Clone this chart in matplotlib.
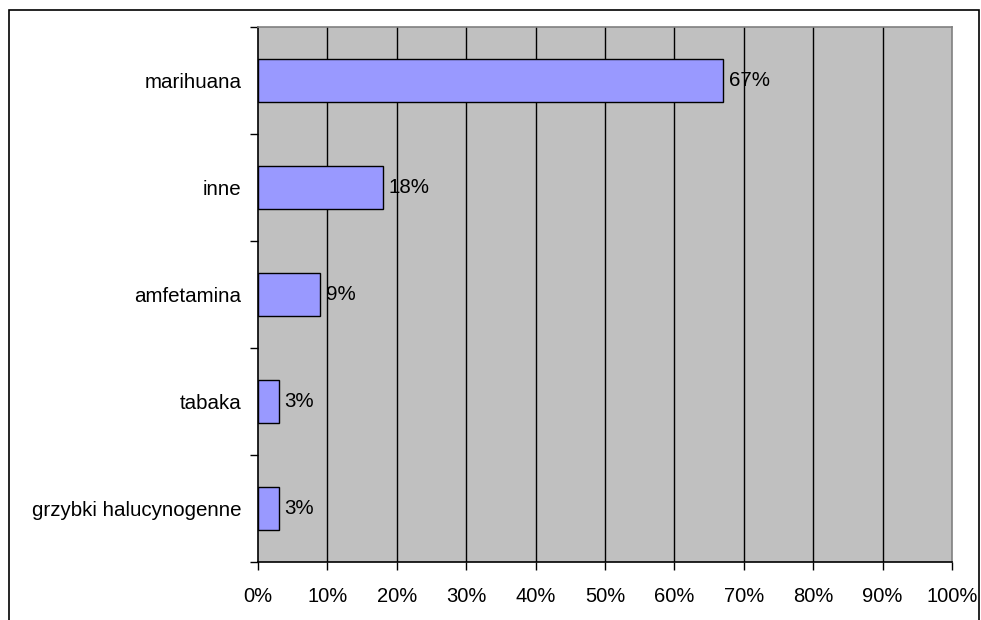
import matplotlib
matplotlib.use("Agg")
import matplotlib.pyplot as plt
from matplotlib.patches import Rectangle
from matplotlib.ticker import FixedLocator, FuncFormatter

categories = ["marihuana", "inne", "amfetamina", "tabaka", "grzybki halucynogenne"]
values = [67, 18, 9, 3, 3]
labels = ["67%", "18%", "9%", "3%", "3%"]
xticks = [0, 10, 20, 30, 40, 50, 60, 70, 80, 90, 100]

plt.rcParams['font.family'] = ['Liberation Sans', 'DejaVu Sans']
W, H = 981, 620
fig = plt.figure(figsize=(W/100, H/100), dpi=100)
fig.patch.set_facecolor('white')

# outer border (bottom edge cut off)
fig.add_artist(Rectangle((8.5/W, -0.05), (979-8.5)/W, 1.05 - 10.5/H, transform=fig.transFigure,
                         fill=False, edgecolor='black', linewidth=1.2))

left, right, top, bottom = 258, 952, 27, 562
ax = fig.add_axes([left/W, 1-bottom/H, (right-left)/W, (bottom-top)/H])
ax.set_facecolor('#C0C0C0')

n = len(categories)
ypos = [n-1-i for i in range(n)]
ax.set_xlim(0, 100)
ax.set_ylim(-0.5, n-0.5)

for x in xticks[1:-1]:
    ax.axvline(x, color='black', linewidth=1.0, zorder=1)

ax.barh(ypos, values, height=0.4, color='#9999FF', edgecolor='black', linewidth=1.0, zorder=2)
for y, v, lab in zip(ypos, values, labels):
    ax.annotate(lab, (v, y), xytext=(4, 0), textcoords='offset points',
                va='center', ha='left', fontsize=14.8, zorder=3)

ax.xaxis.set_major_locator(FixedLocator(xticks))
ax.xaxis.set_major_formatter(FuncFormatter(lambda v, p: f"{int(round(v))}%"))
ax.set_yticks(ypos)
ax.set_yticklabels(categories)
ax.set_yticks([i - 0.5 for i in range(n+1)], minor=True)
ax.tick_params(axis='y', which='major', length=0, labelsize=14.8, pad=12)
ax.tick_params(axis='y', which='minor', length=6, width=1, direction='out')
ax.tick_params(axis='x', which='major', length=6, width=1, direction='out', labelsize=14.5, pad=12)

for s in ['top', 'right']:
    ax.spines[s].set_color('#808080')
    ax.spines[s].set_linewidth(1.2)
for s in ['left', 'bottom']:
    ax.spines[s].set_color('black')
    ax.spines[s].set_linewidth(1.2)

fig.savefig("out.png", dpi=100)
